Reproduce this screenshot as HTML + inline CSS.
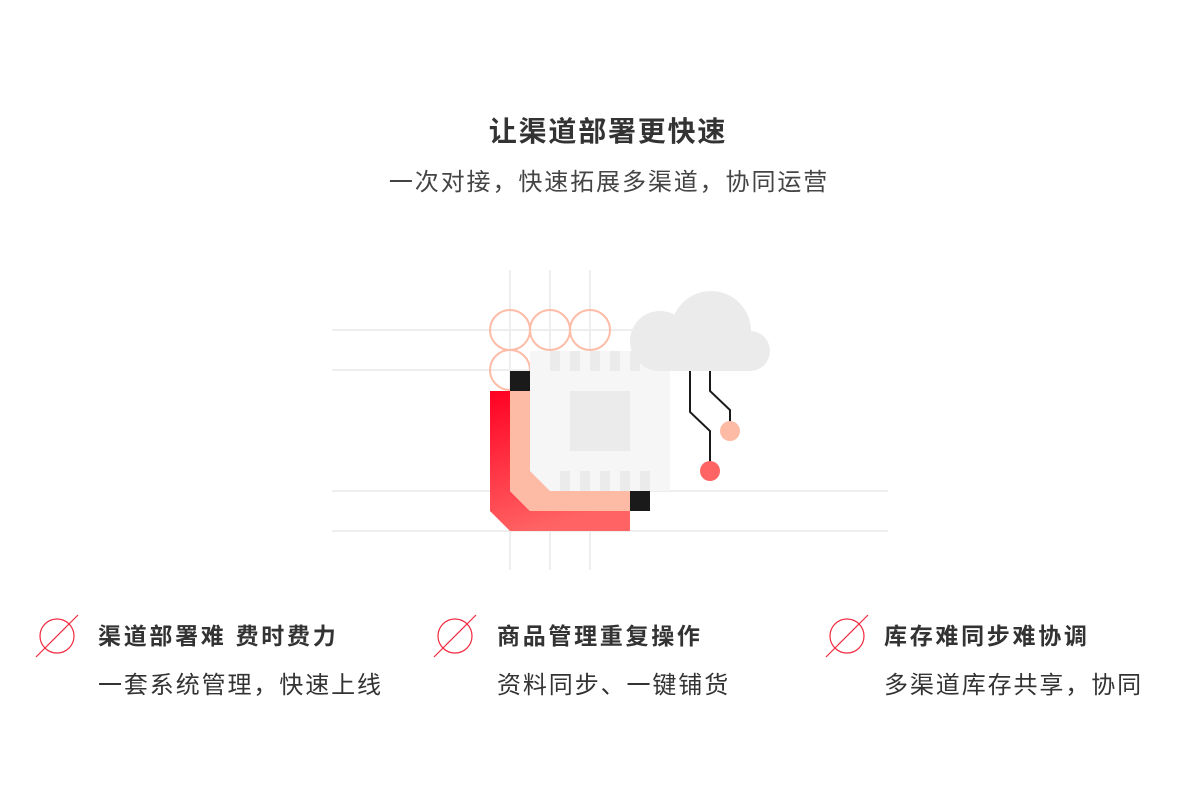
<!DOCTYPE html>
<html><head><meta charset="utf-8"><style>
body{margin:0;width:1200px;height:800px;background:#fff;position:relative;overflow:hidden;font-family:"Liberation Sans","Noto Sans CJK SC",sans-serif;}
.t{position:absolute;white-space:nowrap;color:#333;}
</style></head><body>
<div class="t" style="left:8px;width:1200px;text-align:center;top:114px;font-size:28px;font-weight:bold;letter-spacing:1.8px;line-height:36px;">让渠道部署更快速</div>
<div class="t" style="left:9px;width:1200px;text-align:center;top:168px;font-size:24px;letter-spacing:1.9px;line-height:30px;color:#444;">一次对接，快速拓展多渠道，协同运营</div>

<svg style="position:absolute;left:0;top:0" width="1200" height="800">
<defs><linearGradient id="g" x1="0" y1="0" x2="0.3" y2="1"><stop offset="0" stop-color="#ff0022"/><stop offset="1" stop-color="#ff6363"/></linearGradient></defs>
<g stroke="#eeeeee" stroke-width="2">
<line x1="332" y1="330" x2="640" y2="330"/><line x1="332" y1="370" x2="640" y2="370"/>
<line x1="332" y1="491" x2="888" y2="491"/><line x1="332" y1="531" x2="888" y2="531"/>
<line x1="510" y1="270" x2="510" y2="570"/><line x1="550" y1="270" x2="550" y2="570"/><line x1="590" y1="270" x2="590" y2="570"/>
</g>
<g fill="none" stroke="#fcbca7" stroke-width="2">
<circle cx="510" cy="330" r="20"/><circle cx="550" cy="330" r="20"/><circle cx="590" cy="330" r="20"/><circle cx="510" cy="370" r="20"/>
</g>
<polygon points="530,351 651,351 670,371 670,491 530,491" fill="#f6f6f6"/>
<g fill="#ebebeb">
<rect x="550" y="351" width="10" height="20"/><rect x="570" y="351" width="10" height="20"/><rect x="590" y="351" width="10" height="20"/><rect x="610" y="351" width="10" height="20"/><rect x="630" y="351" width="10" height="20"/>
<rect x="560" y="471" width="10" height="20"/><rect x="580" y="471" width="10" height="20"/><rect x="600" y="471" width="10" height="20"/><rect x="620" y="471" width="10" height="20"/><rect x="640" y="471" width="10" height="20"/>
<rect x="570" y="391" width="60" height="60"/>
<circle cx="711" cy="331" r="40"/><circle cx="660" cy="341" r="30"/><circle cx="750" cy="351" r="20"/>
<rect x="660" y="331" width="90" height="40"/>
</g>
<polygon points="490,391 510,391 510,491 530,511 630,511 630,531 510,531 490,511" fill="url(#g)"/>
<polygon points="510,391 530,391 530,471 550,491 630,491 630,511 530,511 510,491" fill="#fdbba6"/>
<rect x="510" y="371" width="20" height="20" fill="#1a1a1a"/>
<rect x="630" y="491" width="20" height="20" fill="#1a1a1a"/>
<g fill="none" stroke="#1a1a1a" stroke-width="2">
<polyline points="690,371 690,412 710,431 710,462"/>
<polyline points="710,371 710,391 730,410 730,422"/>
</g>
<circle cx="710" cy="471" r="10" fill="#ff6464"/>
<circle cx="730" cy="431" r="10" fill="#fdbba6"/>
<g fill="none" stroke="#f0293e" stroke-width="1.2">
<circle cx="57" cy="636" r="17"/><line x1="36" y1="657" x2="78" y2="615"/>
<circle cx="455" cy="636" r="17"/><line x1="434" y1="657" x2="476" y2="615"/>
<circle cx="847" cy="636" r="17"/><line x1="826" y1="657" x2="868" y2="615"/>
</g>
</svg>

<div class="t" style="left:98px;top:621px;font-size:23px;font-weight:bold;letter-spacing:2.7px;line-height:30px;">渠道部署难 费时费力</div>
<div class="t" style="left:98px;top:671px;font-size:24px;letter-spacing:1.9px;line-height:30px;">一套系统管理，快速上线</div>
<div class="t" style="left:497px;top:621px;font-size:23px;font-weight:bold;letter-spacing:2.7px;line-height:30px;">商品管理重复操作</div>
<div class="t" style="left:497px;top:671px;font-size:24px;letter-spacing:1.9px;line-height:30px;">资料同步、一键铺货</div>
<div class="t" style="left:884px;top:621px;font-size:23px;font-weight:bold;letter-spacing:2.7px;line-height:30px;">库存难同步难协调</div>
<div class="t" style="left:884px;top:671px;font-size:24px;letter-spacing:1.9px;line-height:30px;">多渠道库存共享，协同</div>
</body></html>
